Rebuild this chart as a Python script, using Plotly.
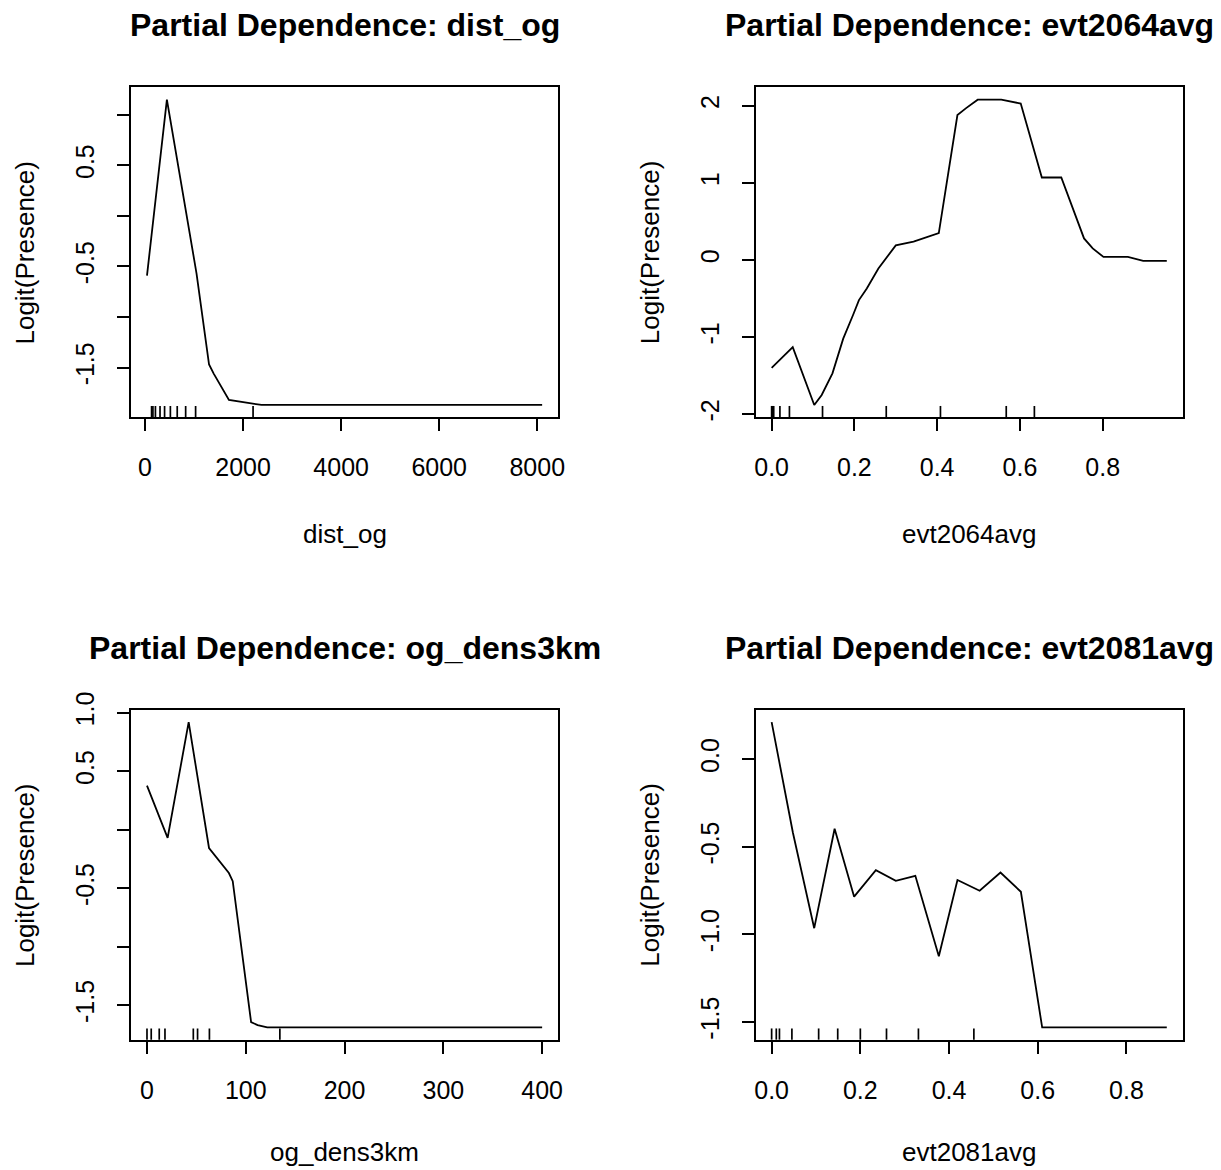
import plotly.graph_objects as go

# ---------------- data ----------------
dist_og_x = [39, 445, 1050, 1305, 1400, 1711, 2100, 2375, 8100]
dist_og_y = [-0.59, 1.15, -0.57, -1.47, -1.56, -1.82, -1.85, -1.87, -1.87]
dist_og_rug = [133, 160, 211, 305, 398, 516, 656, 828, 1031, 2203]

evt2064_x = [0.0, 0.051, 0.103, 0.121, 0.147, 0.173, 0.197, 0.211, 0.230, 0.258,
             0.300, 0.343, 0.404, 0.449, 0.470, 0.498, 0.555, 0.578, 0.602, 0.653,
             0.700, 0.755, 0.776, 0.802, 0.861, 0.898, 0.955]
evt2064_y = [-1.40, -1.13, -1.88, -1.75, -1.47, -1.02, -0.71, -0.52, -0.37, -0.11,
             0.19, 0.24, 0.35, 1.88, 1.97, 2.08, 2.08, 2.06, 2.03, 1.07,
             1.07, 0.28, 0.15, 0.04, 0.04, -0.01, -0.01]
evt2064_rug = [0.0, 0.002, 0.005, 0.020, 0.043, 0.123, 0.277, 0.408, 0.567, 0.635]

og_dens3km_x = [0, 20.9, 42.2, 62.8, 82.9, 86.8, 105.4, 112, 121.7, 400]
og_dens3km_y = [0.377, -0.07, 0.92, -0.156, -0.37, -0.44, -1.645, -1.67, -1.69, -1.69]
og_dens3km_rug = [0, 4.3, 12.4, 18.2, 46.9, 51.2, 63.2, 134.5]

evt2081_x = [0.0, 0.048, 0.096, 0.142, 0.186, 0.235, 0.280, 0.324, 0.377, 0.419,
             0.469, 0.516, 0.562, 0.610, 0.891]
evt2081_y = [0.212, -0.42, -0.965, -0.397, -0.785, -0.634, -0.694, -0.666, -1.125, -0.690,
             -0.751, -0.647, -0.757, -1.532, -1.532]
evt2081_rug = [0.0, 0.0105, 0.0176, 0.0457, 0.106, 0.149, 0.200, 0.259, 0.331, 0.456]

panels = [
    dict(var="dist_og", x=dist_og_x, y=dist_og_y, rug=dist_og_rug,
         xticks=[0, 2000, 4000, 6000, 8000],
         xtext=["0", "2000", "4000", "6000", "8000"],
         yticks=[-1.5, -1.0, -0.5, 0.0, 0.5, 1.0],
         ytext=["-1.5", "", "-0.5", "", "0.5", ""]),
    dict(var="evt2064avg", x=evt2064_x, y=evt2064_y, rug=evt2064_rug,
         xticks=[0.0, 0.2, 0.4, 0.6, 0.8],
         xtext=["0.0", "0.2", "0.4", "0.6", "0.8"],
         yticks=[-2, -1, 0, 1, 2],
         ytext=["-2", "-1", "0", "1", "2"]),
    dict(var="og_dens3km", x=og_dens3km_x, y=og_dens3km_y, rug=og_dens3km_rug,
         xticks=[0, 100, 200, 300, 400],
         xtext=["0", "100", "200", "300", "400"],
         yticks=[-1.5, -1.0, -0.5, 0.0, 0.5, 1.0],
         ytext=["-1.5", "", "-0.5", "", "0.5", "1.0"]),
    dict(var="evt2081avg", x=evt2081_x, y=evt2081_y, rug=evt2081_rug,
         xticks=[0.0, 0.2, 0.4, 0.6, 0.8],
         xtext=["0.0", "0.2", "0.4", "0.6", "0.8"],
         yticks=[-1.5, -1.0, -0.5, 0.0],
         ytext=["-1.5", "-1.0", "-0.5", "0.0"]),
]

ylabel = "Logit(Presence)"
title_prefix = "Partial Dependence: "

# ---------------- layout geometry ----------------
W, H = 1221, 1170
# target boxes (left, right, top, bottom) in picture pixels
boxes = [
    (131, 558, 86, 416),
    (756, 1183, 86, 416),
    (131, 558, 709, 1039),
    (756, 1183, 709, 1039),
]
# x-label distance below each box (bottom row a little tighter so text fits)
xlab_gap = [117, 117, 112, 112]

# correction for the way the page ends up in the picture
AX, BX, AY, BY = 0.75, 0.994, 16.5, 0.982


def fx(px):
    return (px - AX) / BX / W


def fy(py):
    return 1 - (py - AY) / BY / H


TXT = "Liberation Sans, Arial"
tick_size = 25
lab_size = 26
title_size = 32


def r_range(v):
    lo, hi = min(v), max(v)
    d = (hi - lo) * 0.04
    return [lo - d, hi + d]


fig = go.Figure()
annotations = []
shapes = []

for i, (p, (L, R, T, B)) in enumerate(zip(panels, boxes)):
    n = "" if i == 0 else str(i + 1)
    xa, ya = "x" + n, "y" + n
    fig.add_trace(go.Scatter(x=p["x"], y=p["y"], mode="lines",
                             line=dict(color="black", width=1.8),
                             xaxis=xa, yaxis=ya, showlegend=False,
                             hoverinfo="x+y"))
    axis_common = dict(showline=True, linecolor="black", linewidth=1.9, mirror=True,
                       ticks="outside", ticklen=12, tickwidth=1.7, tickcolor="black",
                       showgrid=False, zeroline=False,
                       tickfont=dict(family=TXT, size=tick_size, color="black"))
    fig.layout["xaxis" + n] = dict(
        domain=[fx(L), fx(R)], anchor=ya, range=r_range(p["x"]),
        tickmode="array", tickvals=p["xticks"], ticktext=p["xtext"],
        ticklabelstandoff=15, **axis_common)
    fig.layout["yaxis" + n] = dict(
        domain=[fy(B), fy(T)], anchor=xa, range=r_range(p["y"]),
        tickmode="array", tickvals=p["yticks"], ticktext=p["ytext"],
        tickangle=-90, ticklabelstandoff=13, **axis_common)

    # rug (deciles of the predictor)
    for rx in p["rug"]:
        shapes.append(dict(type="line", xref=xa, yref=ya + " domain",
                           x0=rx, x1=rx, y0=0, y1=0.034,
                           line=dict(color="black", width=1.7)))

    cx = fx((L + R) / 2)
    cy = fy((T + B) / 2)
    annotations.append(dict(text="<b>" + title_prefix + p["var"] + "</b>",
                            x=cx, y=fy(T - 62), xref="paper", yref="paper",
                            showarrow=False, xanchor="center", yanchor="middle",
                            font=dict(family=TXT, size=title_size, color="black")))
    annotations.append(dict(text=p["var"], x=cx, y=fy(B + xlab_gap[i]),
                            xref="paper", yref="paper", showarrow=False,
                            xanchor="center", yanchor="middle",
                            font=dict(family=TXT, size=lab_size, color="black")))
    annotations.append(dict(text=ylabel, x=fx(L - 106), y=cy,
                            xref="paper", yref="paper", showarrow=False,
                            xanchor="center", yanchor="middle", textangle=-90,
                            font=dict(family=TXT, size=lab_size, color="black")))

fig.update_layout(width=W, height=H, margin=dict(l=0, r=0, t=0, b=0),
                  paper_bgcolor="white", plot_bgcolor="white",
                  annotations=annotations, shapes=shapes, showlegend=False)

pin_to_corner = (
    "document.documentElement.style.margin='0';"
    "document.body.style.margin='0';"
    "document.body.style.overflow='hidden';"
    "var d=document.getElementById('{plot_id}');"
    "d.style.position='fixed';d.style.top='0';d.style.left='0';"
)
fig.write_html("out.html", post_script=pin_to_corner,
               config={"displayModeBar": False})
